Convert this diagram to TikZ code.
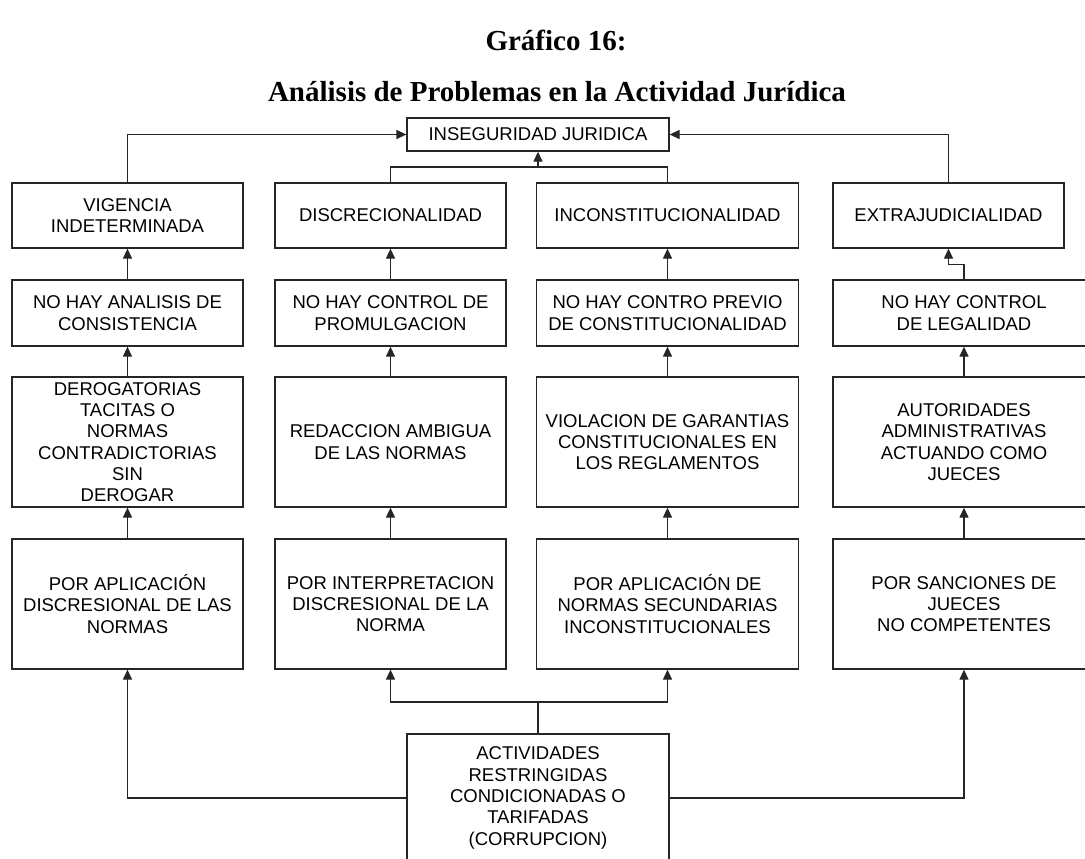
\documentclass[tikz,border=0pt]{standalone}
\usepackage{fontspec}
\newfontfamily\boxfont{Liberation Sans}
\newfontfamily\titlefont{Liberation Serif}
\usetikzlibrary{arrows.meta}
\begin{document}
\begin{tikzpicture}[x=1pt,y=-1pt,
  box/.style={draw=black!85, line width=1.3pt, inner sep=0pt, align=center,
    font=\boxfont\fontsize{18.5}{21.3}\selectfont},
  conn/.style={draw=black!85, line width=1.3pt},
  arr/.style={conn, -{Triangle[length=10pt,width=9pt]}},
  ttl/.style={font=\titlefont\bfseries\fontsize{29}{34}\selectfont, inner sep=0pt},
  r1/.style={box, minimum height=65pt},
  r2/.style={box, minimum height=66pt},
  r3/.style={box, minimum height=130pt},
  nw/.style={minimum width=231pt},
  ww/.style={minimum width=262pt}
]
\clip (0,0) rectangle (1085,859);
\fill[white] (0,0) rectangle (1085,859);

% titles
\node[ttl] (t1) at (556,40) {Gráfico 16:};
\node[ttl] (t2) at (557,92) {Análisis de Problemas en la Actividad Jurídica};

% top box
\node[box, minimum width=262pt, minimum height=33pt] (inseg) at (538,134.5) {INSEGURIDAD JURIDICA};

% row 1
\node[r1, nw] (v1) at (127.5,215.5) {VIGENCIA\\INDETERMINADA};
\node[r1, nw] (d1) at (390.5,215.5) {DISCRECIONALIDAD};
\node[r1, ww] (i1) at (667.5,215.5) {INCONSTITUCIONALIDAD};
\node[r1, nw] (e1) at (948.5,215.5) {EXTRAJUDICIALIDAD};

% row 2
\node[r2, nw] (v2) at (127.5,313) {NO HAY ANALISIS DE\\CONSISTENCIA};
\node[r2, nw] (d2) at (390.5,313) {NO HAY CONTROL DE\\PROMULGACION};
\node[r2, ww] (i2) at (667.5,313) {NO HAY CONTRO PREVIO\\DE CONSTITUCIONALIDAD};
\node[r2, ww] (e2) at (964,313) {NO HAY CONTROL\\DE LEGALIDAD};

% row 3
\node[r3, nw] (v3) at (127.5,442) {DEROGATORIAS\\TACITAS O\\NORMAS\\CONTRADICTORIAS\\SIN\\DEROGAR};
\node[r3, nw] (d3) at (390.5,442) {REDACCION AMBIGUA\\DE LAS NORMAS};
\node[r3, ww] (i3) at (667.5,442) {VIOLACION DE GARANTIAS\\CONSTITUCIONALES EN\\LOS REGLAMENTOS};
\node[r3, ww] (e3) at (964,442) {AUTORIDADES\\ADMINISTRATIVAS\\ACTUANDO COMO\\JUECES};

% row 4
\node[r3, nw] (v4) at (127.5,604) {POR APLICACIÓN\\DISCRESIONAL DE LAS\\NORMAS};
\node[r3, nw] (d4) at (390.5,604) {POR INTERPRETACION\\DISCRESIONAL DE LA\\NORMA};
\node[r3, ww] (i4) at (667.5,604) {POR APLICACIÓN DE\\NORMAS SECUNDARIAS\\INCONSTITUCIONALES};
\node[r3, ww] (e4) at (964,604) {POR SANCIONES DE\\JUECES\\NO COMPETENTES};

% bottom box
\node[box, minimum width=262pt, minimum height=128pt] (bot) at (538,798)
  {ACTIVIDADES\\RESTRINGIDAS\\CONDICIONADAS O\\TARIFADAS\\(CORRUPCION)};

% connectors to top
\draw[arr] (v1.north) |- (inseg.west);
\draw[arr] (e1.north) |- (inseg.east);
\coordinate (jt) at (538,167);
\draw[conn] (d1.north) |- (jt) -| (i1.north);
\draw[arr] (jt) -- (inseg.south);

% vertical chains
\draw[arr] (v2.north) -- (v1.south);
\draw[arr] (d2.north) -- (d1.south);
\draw[arr] (i2.north) -- (i1.south);
\draw[arr] (e2.north) -- ++(0,-15) -| (e1.south);

\draw[arr] (v3.north) -- (v2.south);
\draw[arr] (d3.north) -- (d2.south);
\draw[arr] (i3.north) -- (i2.south);
\draw[arr] (e3.north) -- (e2.south);

\draw[arr] (v4.north) -- (v3.south);
\draw[arr] (d4.north) -- (d3.south);
\draw[arr] (i4.north) -- (i3.south);
\draw[arr] (e4.north) -- (e3.south);

% bottom connectors
\coordinate (jb) at (538,702);
\draw[conn] (bot.north) -- (jb);
\draw[arr] (jb) -| (d4.south);
\draw[arr] (jb) -| (i4.south);
\draw[arr] (bot.west) -| (v4.south);
\draw[arr] (bot.east) -| (e4.south);
\end{tikzpicture}
\end{document}
